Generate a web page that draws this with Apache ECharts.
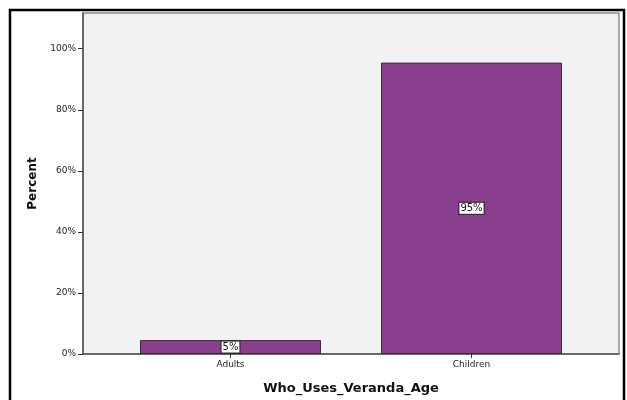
<!DOCTYPE html>
<html>
<head>
<meta charset="utf-8">
<script src="https://cdn.jsdelivr.net/npm/echarts@6/dist/echarts.min.js"></script>
<style>
  html, body { margin: 0; padding: 0; background: #fff; }
  #chart { width: 627px; height: 400px; }
</style>
</head>
<body>
<div id="chart"></div>
<script>
// categories and percentages
var categories = ['Adults', 'Children'];
var percents = [4.55, 95.45];
var yTicks = [0, 20, 40, 60, 80, 100];

var positions = categories.map(function (c, i) { return i; });
var barData = percents.map(function (v, i) { return [positions[i], v]; });

var chart = echarts.init(document.getElementById('chart'));

chart.setOption({
    animation: false,
    textStyle: { fontFamily: 'DejaVu Sans' },
    graphic: [{
        type: 'rect',
        shape: { x: 10, y: 10, width: 614, height: 420 },
        style: { fill: 'none', stroke: '#000', lineWidth: 2.5 },
        z: 100
    }],
    grid: {
        left: 83, right: 8, top: 13, bottom: 43,
        show: true,
        backgroundColor: '#f2f2f2',
        borderColor: '#8c8c8c',
        borderWidth: 1.5
    },
    xAxis: {
        type: 'value',
        min: -0.612,
        max: 1.612,
        name: 'Who_Uses_Veranda_Age',
        nameLocation: 'middle',
        nameGap: 28,
        nameTextStyle: { fontSize: 13, fontWeight: 'bold', color: '#111' },
        axisLine: { show: true, onZero: false, lineStyle: { color: '#555', width: 1.5 } },
        axisTick: { show: true, customValues: positions, length: 4, lineStyle: { color: '#333' } },
        axisLabel: {
            customValues: positions,
            fontSize: 9,
            color: '#222',
            margin: 6,
            formatter: function (v) { return categories[Math.round(v)] || ''; }
        },
        splitLine: { show: false }
    },
    yAxis: {
        type: 'value',
        min: 0,
        max: 111.7,
        name: 'Percent',
        nameLocation: 'middle',
        nameRotate: 90,
        nameGap: 43,
        nameTextStyle: { fontSize: 12, fontWeight: 'bold', color: '#111' },
        axisLine: { show: true, onZero: false, lineStyle: { color: '#555', width: 1.5 } },
        axisTick: { show: true, customValues: yTicks, length: 5, lineStyle: { color: '#333' } },
        axisLabel: {
            customValues: yTicks,
            fontSize: 9,
            color: '#222',
            margin: 7,
            formatter: '{value}%'
        },
        splitLine: { show: false }
    },
    series: [{
        type: 'bar',
        data: barData,
        barWidth: 181,
        itemStyle: {
            color: '#8a3f8e',
            borderColor: '#3a2a3a',
            borderWidth: 1
        },
        label: {
            show: true,
            position: 'inside',
            formatter: function (p) { return p.value[1].toFixed(0) + '%'; },
            fontSize: 10,
            color: '#111',
            backgroundColor: '#fff',
            borderColor: '#222',
            borderWidth: 1,
            padding: [1, 1, 0, 1]
        }
    }]
});
</script>
</body>
</html>
